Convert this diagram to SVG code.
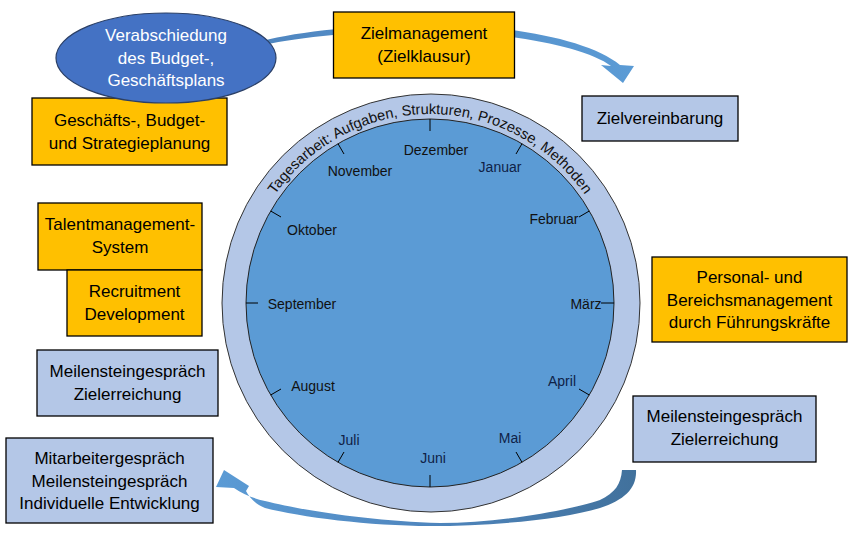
<svg xmlns="http://www.w3.org/2000/svg" width="857" height="544" viewBox="0 0 857 544">
<style>
  .box text, .lbl { font-family: "Liberation Sans", Arial, sans-serif; font-size: 17px; fill: #000; text-anchor: middle; }
  .orange { fill: #FFC000; stroke: #000; stroke-width: 1.3; }
  .light { fill: #B4C7E7; stroke: #000; stroke-width: 1.3; }
  .month { font-family: "Liberation Sans", Arial, sans-serif; font-size: 14px; fill: #111; text-anchor: middle; }
  .month.blue { fill: #0F2247; }
  .tick { stroke: #000; stroke-width: 1; }
  .ringtxt { font-family: "Liberation Sans", Arial, sans-serif; font-size: 14.6px; fill: #111; }
</style>
<defs>
  <linearGradient id="gTop" x1="0" y1="0" x2="1" y2="0">
    <stop offset="0" stop-color="#4F86C0"/>
    <stop offset="1" stop-color="#5B9BD5"/>
  </linearGradient>
  <linearGradient id="gBot" x1="1" y1="0" x2="0" y2="0">
    <stop offset="0" stop-color="#41719C"/>
    <stop offset="0.5" stop-color="#4F86BE"/>
    <stop offset="1" stop-color="#5B9BD5"/>
  </linearGradient>
  <path id="ringArc" d="M 241,303 A 189 189 0 0 1 619,303"/>
</defs>

<g id="connectors">
  <path id="arrow-top" fill="url(#gTop)" d="M 262,41 C 300,31 370,24 430,24.5 C 512,25 590,40 620,65 L 634,66 L 623,83 L 601,65 L 611,66 C 586,47 508,32 430,31 C 372,30 302,36 264,45 Z"/>
  <path id="arrow-bottom" fill="url(#gBot)" d="M 622,470 L 636,470 C 637,488 625,500 600,508 C 560,520 490,526 430,526 C 370,526 300,517 265,508 C 255,504 249,497 246,491 L 249,486 L 224,470 L 216,487 L 234,488 C 243,494 252,498 265,501 C 300,510 370,521 440,523 C 500,523 570,510 600,500 C 615,493 621,484 622,470 Z"/>
</g>

<g id="cycle">
  <circle cx="431" cy="303" r="209" fill="#B4C7E7" stroke="#333" stroke-width="1"/>
  <circle cx="430" cy="303" r="184" fill="#5B9BD5" stroke="#222" stroke-width="1"/>
  <g id="ticks">
    <line class="tick" x1="430" y1="119" x2="430" y2="131"/>
    <line class="tick" x1="522" y1="143.7" x2="516" y2="154"/>
    <line class="tick" x1="589.3" y1="211" x2="579" y2="217"/>
    <line class="tick" x1="614" y1="303" x2="601" y2="303"/>
    <line class="tick" x1="589.3" y1="395" x2="579" y2="389"/>
    <line class="tick" x1="522" y1="462.3" x2="516" y2="452"/>
    <line class="tick" x1="430" y1="487" x2="430" y2="475"/>
    <line class="tick" x1="338" y1="462.3" x2="344" y2="452"/>
    <line class="tick" x1="270.7" y1="395" x2="281" y2="389"/>
    <line class="tick" x1="246" y1="303" x2="258" y2="303"/>
    <line class="tick" x1="270.7" y1="211" x2="281" y2="217"/>
    <line class="tick" x1="338" y1="143.7" x2="344" y2="154"/>
  </g>
  <text class="ringtxt"><textPath href="#ringArc" startOffset="50%" text-anchor="middle">Tagesarbeit: Aufgaben, Strukturen, Prozesse, Methoden</textPath></text>
  <g id="months">
    <text class="month" x="436" y="155">Dezember</text>
    <text class="month blue" x="500" y="172">Januar</text>
    <text class="month" x="554" y="224">Februar</text>
    <text class="month" x="586" y="309">März</text>
    <text class="month blue" x="562" y="386">April</text>
    <text class="month blue" x="510" y="443">Mai</text>
    <text class="month blue" x="433" y="463">Juni</text>
    <text class="month blue" x="349" y="445">Juli</text>
    <text class="month" x="313" y="391">August</text>
    <text class="month" x="302" y="309">September</text>
    <text class="month" x="312" y="235">Oktober</text>
    <text class="month" x="360" y="176">November</text>
  </g>
</g>

<g id="zielmanagement" class="box">
  <rect class="orange" x="333.5" y="12" width="181" height="66"/>
  <text x="424" y="39">Zielmanagement</text>
  <text x="424" y="62">(Zielklausur)</text>
</g>

<g id="zielvereinbarung" class="box">
  <rect class="light" x="582" y="96" width="156" height="45"/>
  <text x="660" y="124">Zielvereinbarung</text>
</g>

<g id="geschaeftsplanung" class="box">
  <rect class="orange" x="32" y="98" width="195" height="67"/>
  <text x="129.5" y="126">Geschäfts-, Budget-</text>
  <text x="129.5" y="149">und Strategieplanung</text>
</g>

<g id="verabschiedung">
  <ellipse cx="166" cy="58" rx="110" ry="45" fill="#4472C4" stroke="#2A3F66" stroke-width="1.2"/>
  <text class="lbl" x="166" y="41" style="fill:#fff">Verabschiedung</text>
  <text class="lbl" x="166" y="64" style="fill:#fff">des Budget-,</text>
  <text class="lbl" x="166" y="86" style="fill:#fff">Geschäftsplans</text>
</g>

<g id="talentmanagement" class="box">
  <rect class="orange" x="38" y="203" width="164" height="67"/>
  <text x="120" y="230">Talentmanagement-</text>
  <text x="120" y="253">System</text>
</g>

<g id="recruitment" class="box">
  <rect class="orange" x="67" y="270" width="135" height="66"/>
  <text x="134.5" y="297">Recruitment</text>
  <text x="134.5" y="320">Development</text>
</g>

<g id="meilenstein-links" class="box">
  <rect class="light" x="37" y="350" width="181" height="66"/>
  <text x="127.5" y="377">Meilensteingespräch</text>
  <text x="127.5" y="400">Zielerreichung</text>
</g>

<g id="mitarbeitergespraech" class="box">
  <rect class="light" x="6" y="438" width="207" height="85"/>
  <text x="109.5" y="464">Mitarbeitergespräch</text>
  <text x="109.5" y="487">Meilensteingespräch</text>
  <text x="109.5" y="509">Individuelle Entwicklung</text>
</g>

<g id="personalmanagement" class="box">
  <rect class="orange" x="652" y="257" width="195" height="85"/>
  <text x="749.5" y="283">Personal- und</text>
  <text x="749.5" y="306">Bereichsmanagement</text>
  <text x="749.5" y="328">durch Führungskräfte</text>
</g>

<g id="meilenstein-rechts" class="box">
  <rect class="light" x="633" y="396" width="183" height="66"/>
  <text x="724.5" y="422">Meilensteingespräch</text>
  <text x="724.5" y="445">Zielerreichung</text>
</g>
</svg>
